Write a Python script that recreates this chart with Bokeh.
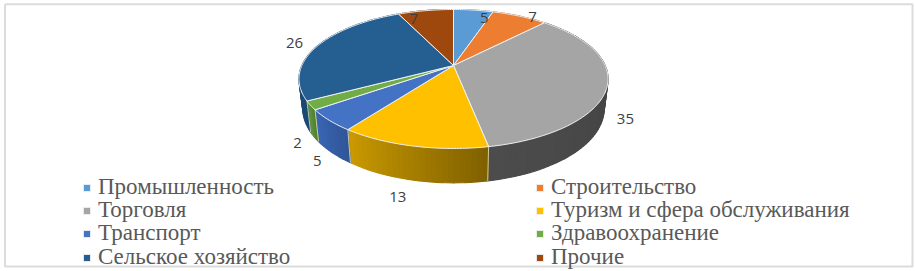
import math
from bokeh.embed import file_html
from bokeh.resources import INLINE
from bokeh.plotting import figure
from bokeh.models import ColumnDataSource, Legend, LegendItem, Range1d
from bokeh.core.properties import value

categories = ["Промышленность", "Строительство", "Торговля", "Туризм и сфера обслуживания",
              "Транспорт", "Здравоохранение", "Сельское хозяйство", "Прочие"]
values = [5, 7, 35, 13, 5, 2, 26, 7]
top_colors = ["#5b9bd5", "#ed7d31", "#a5a5a5", "#ffc000", "#4472c4", "#70ad47", "#255e91", "#9e480e"]
side_from = ["#3f6f9c", "#a85a22", "#3e3e3e", "#7f6000", "#2f5597", "#4e7a2e", "#1c4a73", "#6e320a"]
side_to = ["#3f6f9c", "#a85a22", "#4c4c4c", "#cb9a00", "#3a66b5", "#5f9a3a", "#1c4a73", "#6e320a"]
# label offset from the slice's rim point, in px
label_dx = [11, 13, 18, -15, -12, -13, -23, -12]
label_dy = [8, 1, 34, 51, 41, 38, -3, 8]
# legend rows: px above the bottom of the picture
legend_rows = [71, 48, 25, 1]
legend_cols = [82, 535]

# perspective model of the tilted disc
CX, CY, C, A, K = 453.0, 65.0, 151.6, -54.25, 0.194
SHRINK, DY_SCALE, DY_OFF = 0.975, 1.07, 24.0


def rim(frac):
    a = 2 * math.pi * frac
    X, Y = math.sin(a), math.cos(a)
    d = 1 + K * Y
    return CX + C * X / d, (A * Y + CY) / d


def lower(pt):
    return CX + SHRINK * (pt[0] - CX), DY_SCALE * pt[1] + DY_OFF


def lerp(c1, c2, t):
    v = [round(int(c1[i:i + 2], 16) * (1 - t) + int(c2[i:i + 2], 16) * t) for i in (1, 3, 5)]
    return "#%02x%02x%02x" % tuple(v)


p = figure(width=916, height=271, output_backend="svg", toolbar_location=None,
           x_range=Range1d(0, 916), y_range=Range1d(271, 0), min_border=0)
p.axis.visible = False
p.grid.visible = False
p.outline_line_color = None
p.background_fill_color = "white"
p.border_fill_color = "white"

# picture frame
p.line([4.5, 912, 912, 4.5, 4.5], [3.8, 3.8, 266, 266, 3.8], line_color="#dcdcdc", line_width=2)

total = sum(values)
start = 0.0
bounds = []
for v in values:
    bounds.append((start, start + v / total))
    start += v / total

# side wall
xs, ys, cols = [], [], []
for i, (a, b) in enumerate(bounds):
    n = max(2, int((b - a) * 200))
    for j in range(n):
        f0, f1 = a + (b - a) * j / n, a + (b - a) * (j + 1) / n
        p0, p1 = rim(f0), rim(f1)
        q0, q1 = lower(p0), lower(p1)
        xs.append([p0[0], p1[0], q1[0], q0[0]])
        ys.append([p0[1], p1[1], q1[1], q0[1]])
        cols.append(lerp(side_from[i], side_to[i], (j + 0.5) / n))
p.patches("x", "y", fill_color="c", line_color="c", line_width=1.2,
          source=ColumnDataSource(dict(x=xs, y=ys, c=cols)))

# light seams on the front wall
for a, b in bounds:
    pt = rim(a)
    if pt[1] > 78:
        q = lower(pt)
        p.line([pt[0], q[0]], [pt[1], q[1]], line_color="#e9e2c4", line_width=1, line_alpha=0.8)

# top faces
rends = []
for i, (a, b) in enumerate(bounds):
    n = max(3, int((b - a) * 400))
    pts = [rim(a + (b - a) * j / n) for j in range(n + 1)]
    r = p.patch([CX] + [q[0] for q in pts], [CY] + [q[1] for q in pts],
                fill_color=top_colors[i], line_color="#eef1f4", line_width=1)
    rends.append(r)

# value labels
lx, ly, lt = [], [], []
for i, (a, b) in enumerate(bounds):
    pt = rim((a + b) / 2)
    lx.append(pt[0] + label_dx[i])
    ly.append(pt[1] + label_dy[i])
    lt.append(str(values[i]))
p.text(lx, ly, text=lt, text_font=value("Open Sans"), text_font_size="15px",
       text_color="#404040", text_align="center", text_baseline="middle")

# legend: one row each, because Bokeh cannot pack rows tighter than the text height
for i, name in enumerate(categories):
    lg = Legend(items=[LegendItem(label=name, renderers=[rends[i]])],
                location=(legend_cols[i % 2], legend_rows[i // 2]), orientation="vertical",
                label_text_font="Liberation Serif", label_text_font_size="23px",
                label_text_color="#595959", label_standoff=7, label_height=20,
                glyph_width=9, glyph_height=9, spacing=0, padding=0, margin=0,
                background_fill_alpha=0, border_line_color=None)
    p.add_layout(lg, "center")

open("out.html", "w").write(file_html(p, INLINE))
